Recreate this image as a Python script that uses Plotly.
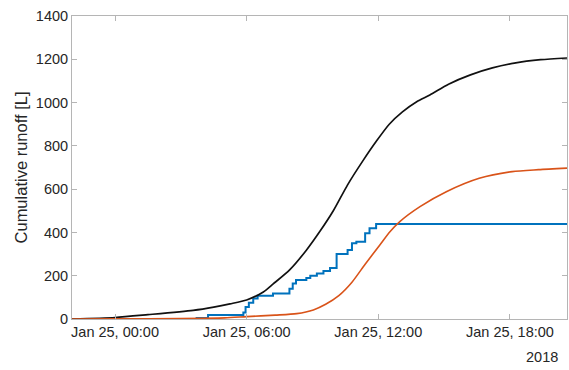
import pandas as pd
import plotly.graph_objects as go

# hours relative to 2018-01-25 00:00
black_h = [-1.96, 0.0, 1.5, 3.56, 4.5, 5.24, 6.0, 6.76, 7.21, 7.97, 8.73, 9.34, 9.95, 10.6, 11.31, 11.9, 12.5, 13.1, 13.75, 14.35, 15.2, 16.2, 17.2, 18.2, 19.4, 20.6]
black_v = [0, 7, 20, 40, 55, 70, 88, 125, 162, 228, 319, 405, 500, 620, 733, 820, 900, 957, 1004, 1035, 1085, 1128, 1160, 1182, 1198, 1206]

orange_h = [-1.96, 0.0, 3.0, 5.0, 6.0, 7.3, 8.28, 9.04, 9.6, 10.2, 10.8, 11.4, 12.07, 12.53, 12.98, 13.9, 15.1, 16.6, 18.1, 19.3, 20.6]
orange_v = [0, 1, 2, 5, 11, 18, 25, 42, 68, 108, 170, 253, 342, 403, 450, 519, 588, 650, 681, 690, 697]

blue_h = [-1.96, 3.72, 4.24, 5.85, 5.95, 6.1, 6.3, 6.5, 7.2, 7.95, 8.1, 8.25, 8.72, 8.9, 9.2, 9.5, 9.8, 10.1, 10.6, 10.8, 11.0, 11.4, 11.6, 11.9, 20.6]
blue_v = [0, 5, 18, 30, 55, 75, 95, 108, 118, 140, 164, 180, 189, 200, 210, 222, 236, 300, 319, 350, 357, 396, 419, 439, 439]

xtick_h = [0, 6, 12, 18]
xtick_text = ["Jan 25, 00:00", "Jan 25, 06:00", "Jan 25, 12:00", "Jan 25, 18:00"]
ytick_vals = [0, 200, 400, 600, 800, 1000, 1200, 1400]

base = pd.Timestamp("2018-01-25 00:00")
def to_dt(hs):
    return [base + pd.Timedelta(hours=h) for h in hs]

FONT = "Liberation Sans, Arial"
fig = go.Figure()
fig.add_trace(go.Scatter(x=to_dt(blue_h), y=blue_v, mode="lines", line=dict(color="#0072BD", width=2, shape="hv")))
fig.add_trace(go.Scatter(x=to_dt(black_h), y=black_v, mode="lines", line=dict(color="#111111", width=1.7, shape="spline", smoothing=0.7)))
fig.add_trace(go.Scatter(x=to_dt(orange_h), y=orange_v, mode="lines", line=dict(color="#D95319", width=1.6, shape="spline", smoothing=0.7)))

axis_common = dict(showgrid=False, zeroline=False, showline=True, linecolor="#b5b5b5", linewidth=1,
                   mirror="ticks", ticks="inside", ticklen=5, tickcolor="#b5b5b5",
                   tickfont=dict(family=FONT, size=14.5, color="#262626"))

fig.update_xaxes(range=[base + pd.Timedelta(hours=-1.96), base + pd.Timedelta(hours=20.6)],
                 tickvals=to_dt(xtick_h), ticktext=xtick_text, **axis_common)
fig.update_yaxes(range=[0, 1400], tickvals=ytick_vals, ticklabelstandoff=0,
                 title=dict(text="Cumulative runoff [L]", font=dict(family=FONT, size=16.5, color="#262626"), standoff=4),
                 **axis_common)

fig.add_annotation(text="2018", xref="paper", yref="paper", x=0.985, y=-0.125, xanchor="right", yanchor="middle",
                   showarrow=False, font=dict(family=FONT, size=14.5, color="#262626"))

fig.update_layout(width=569, height=370, margin=dict(l=72, r=2, t=16, b=51),
                  plot_bgcolor="white", paper_bgcolor="white", showlegend=False)
fig.write_html("out.html", config={"displayModeBar": False},
               post_script="document.body.style.margin='0';document.body.style.overflow='hidden';")
